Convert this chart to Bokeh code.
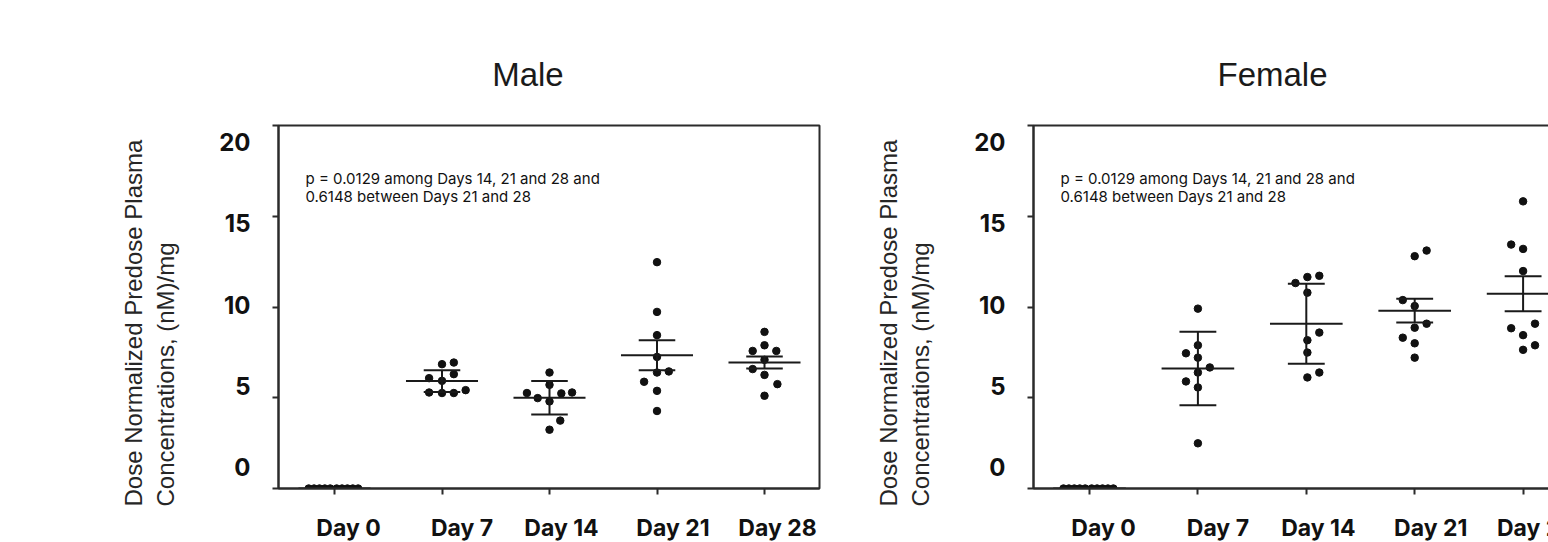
from bokeh.plotting import figure
from bokeh.models import Range1d, FixedTicker, Label, Title, CustomJSTickFormatter
from bokeh.layouts import row
from bokeh.embed import file_html
from bokeh.resources import INLINE

# ---------------- data ----------------
days = ["Day 0", "Day 7", "Day 14", "Day 21", "Day 28"]
y_ticks = [0, 5, 10, 15, 20]
titles = ["Male", "Female"]
y_title = ["Dose Normalized Predose Plasma", "Concentrations, (nM)/mg"]
annotation = ["p = 0.0129 among Days 14, 21 and 28 and",
              "0.6148 between Days 21 and 28"]

male_values = [
    [0, 0, 0, 0, 0, 0, 0, 0, 0, 0],
    [6.85, 6.94, 6.30, 6.08, 5.93, 5.29, 5.26, 5.26, 5.42],
    [6.39, 5.71, 5.26, 4.98, 4.80, 5.24, 5.29, 3.74, 3.24],
    [12.47, 9.73, 8.45, 7.25, 6.39, 6.45, 5.88, 5.38, 4.27],
    [8.63, 7.89, 7.58, 7.58, 7.09, 6.58, 6.26, 5.75, 5.11],
]
male_mean = [0, 5.92, 5.00, 7.34, 6.94]
male_err = [0, 0.60, 0.92, 0.83, 0.33]

female_values = [
    [0, 0, 0, 0, 0, 0, 0, 0, 0, 0],
    [9.91, 7.89, 7.45, 7.21, 6.67, 6.39, 5.90, 5.57, 2.49],
    [11.65, 11.72, 11.32, 10.79, 8.59, 8.17, 7.49, 6.39, 6.12],
    [12.80, 13.11, 10.38, 10.05, 9.08, 8.86, 8.31, 8.00, 7.21],
    [15.82, 13.44, 13.20, 11.98, 9.08, 8.83, 8.45, 7.89, 7.64],
]
female_mean = [0, 6.61, 9.08, 9.80, 10.73]
female_err = [0, 2.02, 2.20, 0.66, 0.97]

# horizontal scatter (jitter) of the dots, in category units
male_jitter = [
    [-0.24, -0.19, -0.14, -0.09, -0.04, 0.02, 0.07, 0.12, 0.17, 0.22],
    [0, 0.11, 0.11, -0.12, 0, -0.12, 0, 0.11, 0.22],
    [0, 0, -0.21, -0.11, 0, 0.11, 0.21, 0.10, 0],
    [0, 0, 0, 0, 0, 0.11, -0.12, 0, 0],
    [0, 0, -0.11, 0.11, 0, -0.11, 0, 0.12, 0],
]
female_jitter = [
    [-0.24, -0.19, -0.14, -0.09, -0.04, 0.02, 0.07, 0.12, 0.17, 0.22],
    [0, 0, -0.11, 0, 0.11, 0, -0.11, 0, 0],
    [0.01, 0.12, -0.10, 0.01, 0.12, 0.01, 0.01, 0.12, 0.01],
    [0, 0.11, -0.11, 0, 0.11, 0, -0.11, 0, 0],
    [0, -0.11, 0, 0, 0.11, -0.11, 0, 0.11, 0],
]

# ---------------- layout constants (pixels) ----------------
VIEW_W, VIEW_H = 1548, 542       # visible area (the original is cropped on the right/bottom)
H = 560
BORDER_TOP = 125
BORDER_BOTTOM = 72
FRAME_H = H - BORDER_TOP - BORDER_BOTTOM
Y_PX = FRAME_H / 20.0            # px per y unit
DAY0_FROM_FRAME = 56             # px from frame left to Day 0
XLAB_OFF = [14, 20, 12, 16, 13]  # tick-label shift to the right (px)
YLAB_TOP, YLAB_BOT = 346.3, 21.5 # "20" / "0" label centres above the x axis (px)
INK = "#1a1a1a"
AXIS = "#2b2b2b"
LABEL_JS = "return labels[index];"


def panel(title, title_off, values, jitter, mean, err, left, frame_w, right, xscale):
    x0 = -DAY0_FROM_FRAME / xscale
    x1 = x0 + frame_w / xscale
    p = figure(width=left + frame_w + right, height=H,
               x_range=Range1d(x0, x1), y_range=Range1d(0, 20),
               min_border_left=left, min_border_right=right,
               min_border_top=BORDER_TOP, min_border_bottom=BORDER_BOTTOM,
               title=title, toolbar_location=None, output_backend="svg")
    p.xgrid.visible = False
    p.ygrid.visible = False
    p.outline_line_color = AXIS
    p.outline_line_width = 2

    # panel title
    p.title.align = "left"
    p.title.offset = title_off
    p.title.standoff = 66
    p.title.text_font = "Liberation Sans"
    p.title.text_font_size = "33px"
    p.title.text_font_style = "normal"
    p.title.text_color = INK

    # x axis: tick marks at the days (minor ticks), labels shifted as in original
    xa = p.below[0]
    xa.ticker = FixedTicker(ticks=[i + o / xscale for i, o in enumerate(XLAB_OFF)],
                            minor_ticks=list(range(len(days))))
    xa.formatter = CustomJSTickFormatter(args=dict(labels=days), code=LABEL_JS)
    xa.major_label_standoff = 19
    xa.major_label_text_font = "Inter"
    xa.major_label_text_font_size = "23px"
    xa.major_label_text_font_style = "bold"

    # y axis: tick marks at the values (minor ticks), labels placed as in original
    step = (YLAB_TOP - YLAB_BOT) / (y_ticks[-1] - y_ticks[0]) / Y_PX
    ya = p.left[0]
    ya.ticker = FixedTicker(ticks=[YLAB_BOT / Y_PX + v * step for v in y_ticks],
                            minor_ticks=y_ticks)
    ya.formatter = CustomJSTickFormatter(args=dict(labels=[str(v) for v in y_ticks]),
                                         code=LABEL_JS)
    ya.major_label_standoff = 22
    ya.major_label_text_font = "Inter"
    ya.major_label_text_font_size = "24px"
    ya.major_label_text_font_style = "bold"

    for a in (xa, ya):
        a.major_tick_out = 0
        a.major_tick_in = 0
        a.major_tick_line_color = None
        a.minor_tick_out = 6
        a.minor_tick_in = 0
        a.minor_tick_line_width = 2
        a.minor_tick_line_color = AXIS
        a.axis_line_width = 2
        a.axis_line_color = AXIS
        a.major_label_text_color = "#111111"

    # y-axis title: two left-aligned rotated lines
    p.add_layout(Title(text="\n".join(y_title), align="left", offset=-18, standoff=74,
                       text_font="Liberation Sans", text_font_size="24px",
                       text_font_style="normal", text_line_height=1.2,
                       text_color="#262626"), "left")

    # p-value annotation (inside the frame)
    for line, base in zip(annotation, (310.3, 292.0)):
        p.add_layout(Label(x=-29 / xscale, y=base / Y_PX, text=line,
                           text_align="left", text_baseline="alphabetic",
                           text_font="Inter", text_font_size="15px",
                           text_color="#111111"))

    # dots
    xs, ys = [], []
    for i, (vals, jit) in enumerate(zip(values, jitter)):
        for v, j in zip(vals, jit):
            xs.append(i + j)
            ys.append(v)
    p.scatter(xs, ys, size=7.5, color="#111111")

    # mean and error bars
    idx = list(range(len(days)))
    lo = [m - e for m, e in zip(mean, err)]
    hi = [m + e for m, e in zip(mean, err)]
    p.segment(x0=[i - 0.335 for i in idx], x1=[i + 0.335 for i in idx], y0=mean, y1=mean,
              line_width=2, line_color=INK)
    p.segment(x0=idx, x1=idx, y0=lo, y1=hi, line_width=2, line_color=INK)
    p.segment(x0=[i - 0.17 for i in idx], x1=[i + 0.17 for i in idx], y0=hi, y1=hi,
              line_width=2, line_color=INK)
    p.segment(x0=[i - 0.17 for i in idx], x1=[i + 0.17 for i in idx], y0=lo, y1=lo,
              line_width=2, line_color=INK)
    return p


p1 = panel(titles[0], 213.7, male_values, male_jitter, male_mean, male_err,
           left=278, frame_w=541, right=12, xscale=107.5)
p2 = panel(titles[1], 184.0, female_values, female_jitter, female_mean, female_err,
           left=202, frame_w=546, right=20, xscale=108.4)

# the original is a crop: show only the visible window of the two panels
layout = row(p1, p2, styles={"overflow": "hidden",
                             "max-width": f"{VIEW_W}px", "max-height": f"{VIEW_H}px"})
open("out.html", "w").write(file_html(layout, INLINE))
